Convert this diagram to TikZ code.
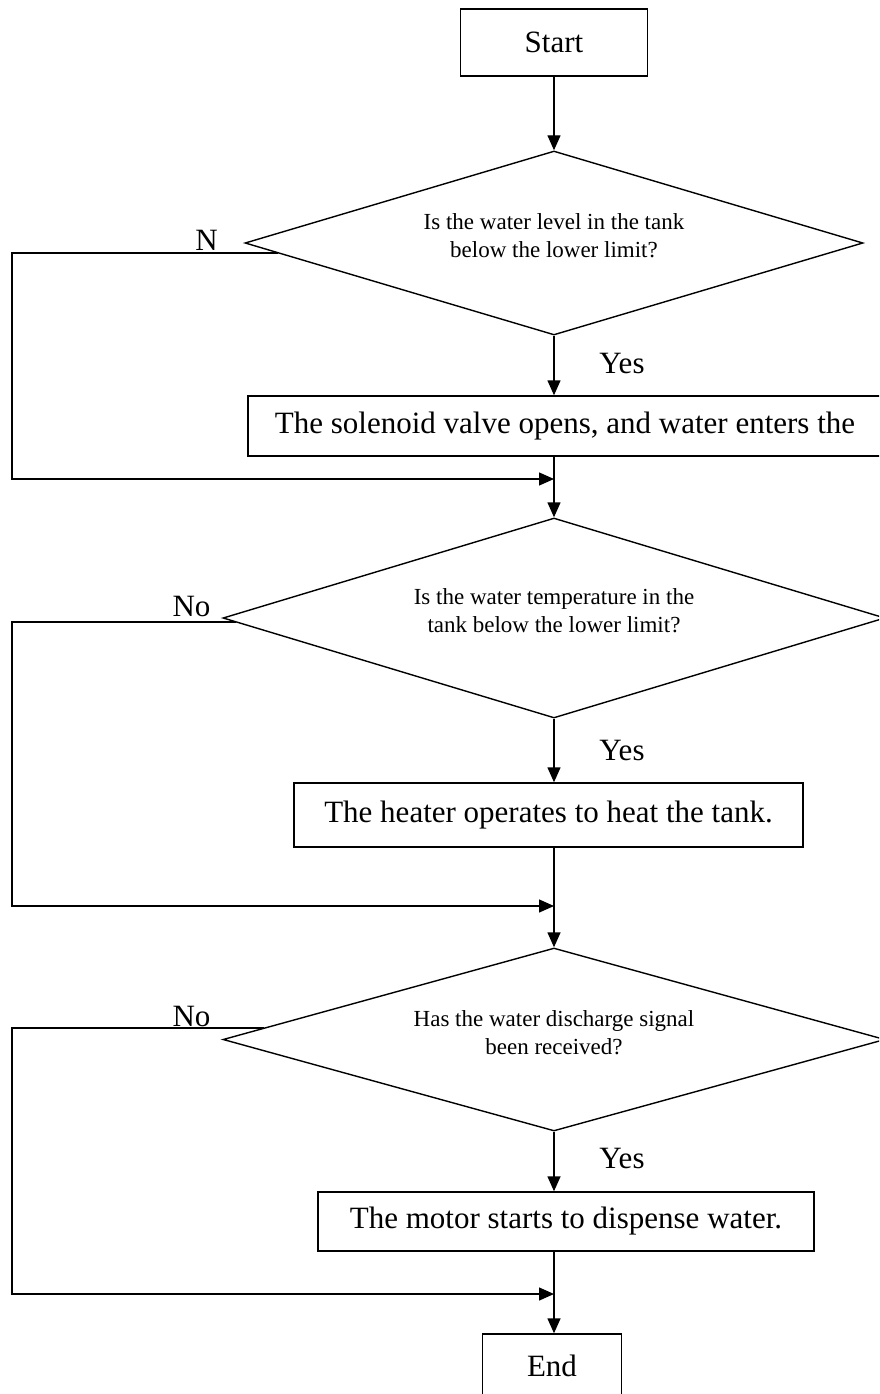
\documentclass[tikz,border=0pt]{standalone}
\usepackage{fontspec}
\setmainfont{Liberation Serif}
\usetikzlibrary{shapes.geometric,arrows.meta,calc}
\tikzset{
  box/.style={draw, line width=1.4pt, inner sep=0pt, font=\fontsize{31}{36}\selectfont},
  ask/.style={draw, diamond, shape aspect=3.3, line width=1.4pt, inner sep=0pt, align=center, text depth=14pt, font=\fontsize{23}{28}\selectfont},
  lbl/.style={inner sep=0pt, font=\fontsize{31}{36}\selectfont},
  flow/.style={line width=1.4pt, -{Triangle[length=15pt,width=13pt]}}
}
\begin{document}
\begin{tikzpicture}[x=1pt,y=-1pt]
\clip (0,0) rectangle (879,1394);
\node[box, minimum width=187pt, minimum height=67pt] (start) at (554,42.5) {Start};
\node[ask, minimum width=618pt, minimum height=184pt] (d1) at (554,243) {Is the water level in the tank\\below the lower limit?};
\node[box, minimum width=634pt, minimum height=60pt] (valve) at (565,426) {The solenoid valve opens, and water enters the};
\node[ask, minimum width=662pt, minimum height=200pt] (d2) at (554,618) {Is the water temperature in the\\tank below the lower limit?};
\node[box, minimum width=509pt, minimum height=64pt] (heat) at (548.5,815) {The heater operates to heat the tank.};
\node[ask, minimum width=662pt, minimum height=183pt] (d3) at (554,1039.5) {Has the water discharge signal\\been received?};
\node[box, minimum width=496pt, minimum height=59pt] (motor) at (566,1221.5) {The motor starts to dispense water.};
\node[box, minimum width=139pt, minimum height=64pt] (stop) at (552,1366) {End};
\node[lbl] (n1) at (206.5,240) {N};
\node[lbl] (y1) at (622,363) {Yes};
\node[lbl] (n2) at (191.5,606) {No};
\node[lbl] (y2) at (622,750) {Yes};
\node[lbl] (n3) at (191.5,1016) {No};
\node[lbl] (y3) at (622,1158) {Yes};
\coordinate (rail) at (12,0);
\coordinate (j1) at (554,479);
\coordinate (j2) at (554,906);
\coordinate (j3) at (554,1294);
\coordinate (e1) at ($(d1.west)!0.11!(d1.south)$);
\coordinate (e2) at ($(d2.west)!0.04!(d2.south)$);
\coordinate (e3) at ($(d3.west)!0.126!(d3.north)$);
\draw[flow] (start.south) -- (d1.north);
\draw[flow] (d1.south) -- (d1.south |- valve.north);
\draw[flow] (d1.south |- valve.south) -- (d2.north);
\draw[flow] (e1) -- (e1 -| rail) |- (j1);
\draw[flow] (d2.south) -- (d2.south |- heat.north);
\draw[flow] (d2.south |- heat.south) -- (d3.north);
\draw[flow] (e2) -- (e2 -| rail) |- (j2);
\draw[flow] (d3.south) -- (d3.south |- motor.north);
\draw[flow] (d3.south |- motor.south) -- (d3.south |- stop.north);
\draw[flow] (e3) -- (e3 -| rail) |- (j3);
\end{tikzpicture}
\end{document}
